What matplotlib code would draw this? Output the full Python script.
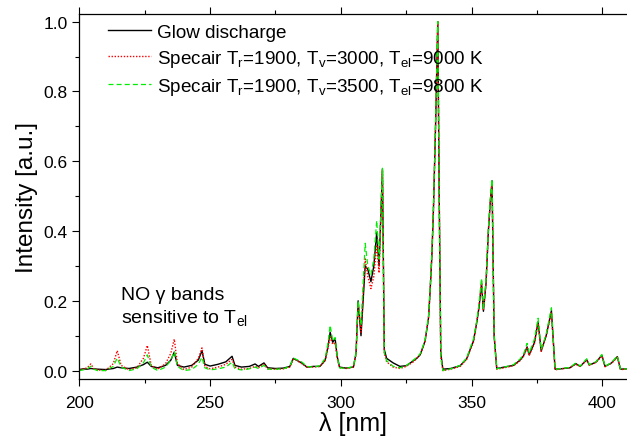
import matplotlib
matplotlib.use("Agg")
import matplotlib.pyplot as plt
from matplotlib.ticker import MultipleLocator

plt.rcParams['font.family'] = ['Liberation Sans', 'DejaVu Sans']
plt.rcParams['mathtext.fontset'] = 'custom'
plt.rcParams['mathtext.rm'] = 'Liberation Sans'
plt.rcParams['mathtext.it'] = 'Liberation Sans:italic'

wavelength = [200, 201.5, 203, 204.4, 205.5, 207, 210, 213, 214.5, 216, 219, 222, 224.5, 226, 227.5,
              230, 233, 235, 236.3, 237.5, 240, 243, 245.5, 246.9, 248, 250, 253, 256, 258.4, 259.5,
              262, 265, 267.2, 268.5, 270.6, 272, 275, 278, 280.5, 281.8, 283, 285, 287, 289.5, 292,
              294, 295.1, 295.9, 296.9, 297.8, 298.6, 299.5, 302, 304.8, 305.8, 306.6, 307.7, 309.3,
              310.3, 311.5, 312.6, 313.7, 314.6, 315.9, 316.6, 317.5, 320, 322.6, 325, 327.7, 329,
              330.3, 331.5, 332.2, 333.5, 334.1, 334.8, 335.4, 336.2, 337.05, 337.6, 338.2, 339, 342,
              345.6, 348.1, 349.4, 350.7, 352, 352.8, 353.8, 354.5, 355.5, 356.4, 357.1, 357.8, 358.6,
              359.6, 362.5, 366, 368.5, 369.8, 371.2, 372, 374, 375.4, 376.6, 378.5, 380.5, 381.9, 384,
              387.6, 389.8, 391.5, 394, 395, 397.5, 399.8, 401, 403.5, 405.7, 406.9, 409.4]

glow = [0.003, 0.005, 0.004, 0.006, 0.005, 0.004, 0.003, 0.006, 0.010, 0.008, 0.006, 0.010, 0.017, 0.024, 0.012,
        0.008, 0.015, 0.030, 0.053, 0.015, 0.010, 0.015, 0.030, 0.057, 0.018, 0.013, 0.018, 0.025, 0.041, 0.015,
        0.010, 0.012, 0.019, 0.012, 0.022, 0.008, 0.006, 0.007, 0.012, 0.035, 0.030, 0.022, 0.010, 0.012, 0.012,
        0.030, 0.070, 0.110, 0.081, 0.092, 0.040, 0.010, 0.007, 0.010, 0.050, 0.200, 0.100, 0.300,
        0.290, 0.255, 0.300, 0.395, 0.300, 0.578, 0.060, 0.035, 0.022, 0.012, 0.014, 0.028, 0.035,
        0.045, 0.070, 0.085, 0.150, 0.225, 0.330, 0.463, 0.700, 1.000, 0.500, 0.050, 0.004, 0.006,
        0.014, 0.034, 0.060, 0.085, 0.140, 0.180, 0.250, 0.170, 0.250, 0.400, 0.480, 0.544, 0.100,
        0.006, 0.010, 0.015, 0.030, 0.042, 0.068, 0.045, 0.080, 0.140, 0.056, 0.100, 0.172, 0.004, 0.005,
        0.008, 0.020, 0.012, 0.031, 0.016, 0.024, 0.044, 0.012, 0.022, 0.040, 0.004, 0.005]

specair_9000 = [0.002, 0.004, 0.008, 0.019, 0.006, 0.002, 0.000, 0.020, 0.057, 0.015, 0.002, 0.008, 0.035, 0.072, 0.015,
                0.004, 0.020, 0.050, 0.090, 0.020, 0.003, 0.010, 0.035, 0.065, 0.012, 0.005, 0.010, 0.018, 0.032, 0.010,
                0.004, 0.006, 0.012, 0.008, 0.018, 0.005, 0.004, 0.005, 0.010, 0.032, 0.030, 0.020, 0.010, 0.010, 0.012,
                0.028, 0.065, 0.096, 0.075, 0.080, 0.035, 0.008, 0.006, 0.010, 0.045, 0.190, 0.110, 0.320,
                0.270, 0.235, 0.270, 0.360, 0.280, 0.575, 0.050, 0.025, 0.010, 0.006, 0.012, 0.025, 0.035,
                0.045, 0.068, 0.085, 0.150, 0.225, 0.330, 0.463, 0.700, 1.000, 0.500, 0.040, 0.000, 0.004,
                0.012, 0.032, 0.058, 0.082, 0.140, 0.185, 0.255, 0.172, 0.250, 0.400, 0.480, 0.540, 0.100,
                0.004, 0.008, 0.014, 0.028, 0.040, 0.065, 0.043, 0.078, 0.135, 0.055, 0.100, 0.165, 0.002, 0.005,
                0.008, 0.018, 0.012, 0.030, 0.015, 0.023, 0.042, 0.011, 0.021, 0.038, 0.003, 0.004]

specair_9800 = [0.000, 0.002, 0.005, 0.012, 0.004, 0.000, 0.000, 0.012, 0.036, 0.010, 0.000, 0.005, 0.022, 0.045, 0.010,
                0.000, 0.010, 0.030, 0.055, 0.012, 0.000, 0.003, 0.018, 0.038, 0.008, 0.002, 0.005, 0.010, 0.024, 0.005,
                0.002, 0.005, 0.010, 0.006, 0.015, 0.004, 0.004, 0.005, 0.012, 0.036, 0.032, 0.025, 0.012, 0.010, 0.014,
                0.035, 0.080, 0.130, 0.085, 0.095, 0.040, 0.008, 0.006, 0.012, 0.050, 0.200, 0.130, 0.365,
                0.300, 0.275, 0.320, 0.430, 0.320, 0.580, 0.050, 0.028, 0.012, 0.008, 0.014, 0.030, 0.038,
                0.048, 0.072, 0.088, 0.155, 0.230, 0.340, 0.470, 0.710, 1.000, 0.500, 0.040, 0.000, 0.005,
                0.015, 0.036, 0.064, 0.090, 0.145, 0.190, 0.265, 0.175, 0.260, 0.405, 0.490, 0.548, 0.100,
                0.005, 0.010, 0.017, 0.033, 0.046, 0.078, 0.050, 0.090, 0.150, 0.060, 0.105, 0.180, 0.003, 0.006,
                0.009, 0.022, 0.013, 0.034, 0.017, 0.025, 0.046, 0.012, 0.023, 0.042, 0.004, 0.005]

labels = ['Glow discharge',
          r'Specair T$_{\mathrm{r}}$=1900, T$_{\mathrm{v}}$=3000, T$_{\mathrm{el}}$=9000 K',
          r'Specair T$_{\mathrm{r}}$=1900, T$_{\mathrm{v}}$=3500, T$_{\mathrm{el}}$=9800 K']

fig = plt.figure(figsize=(6.27, 4.39), dpi=100)
ax = fig.add_axes([0.1265, 0.1337, 1.0 - 0.1265, 0.9658 - 0.1337])

ax.plot(wavelength, glow, color='black', lw=1.0, ls='-', label=labels[0])
ax.plot(wavelength, specair_9000, color='#ff0000', lw=1.0, ls=(0, (1, 1.2)), label=labels[1])
ax.plot(wavelength, specair_9800, color='#00ee00', lw=0.9, ls=(0, (4, 2.5)), label=labels[2])

ax.set_xlim(200, 409.4)
ax.set_ylim(-0.025, 1.022)
ax.xaxis.set_major_locator(MultipleLocator(50))
ax.xaxis.set_minor_locator(MultipleLocator(25))
ax.yaxis.set_major_locator(MultipleLocator(0.2))
ax.yaxis.set_minor_locator(MultipleLocator(0.1))
ax.yaxis.set_major_formatter(matplotlib.ticker.FormatStrFormatter('%.1f'))
ax.tick_params(which='both', direction='out', top=True, right=False, labelsize=12.5, width=0.8)
ax.tick_params(which='major', length=5)
ax.tick_params(which='minor', length=3)
ax.tick_params(axis='x', which='major', pad=6)
ax.spines['right'].set_visible(False)
for s in ['left', 'bottom', 'top']:
    ax.spines[s].set_linewidth(0.9)

ax.set_xlabel('λ [nm]', fontsize=18, labelpad=1)
ax.set_ylabel('Intensity [a.u.]', fontsize=17.5, labelpad=4)

leg = ax.legend(loc='upper left', bbox_to_anchor=(0.035, 1.0), frameon=False, fontsize=13.6,
                handlelength=2.3, handletextpad=0.3, labelspacing=0.38, borderaxespad=0.1)

ax.text(0.077, 0.2335, 'NO γ bands', transform=ax.transAxes, fontsize=14, ha='left', va='center')
ax.text(0.077, 0.1705, r'sensitive to T$_{\mathrm{el}}$', transform=ax.transAxes, fontsize=14,
        ha='left', va='center')

fig.savefig('out.png', dpi=100)
